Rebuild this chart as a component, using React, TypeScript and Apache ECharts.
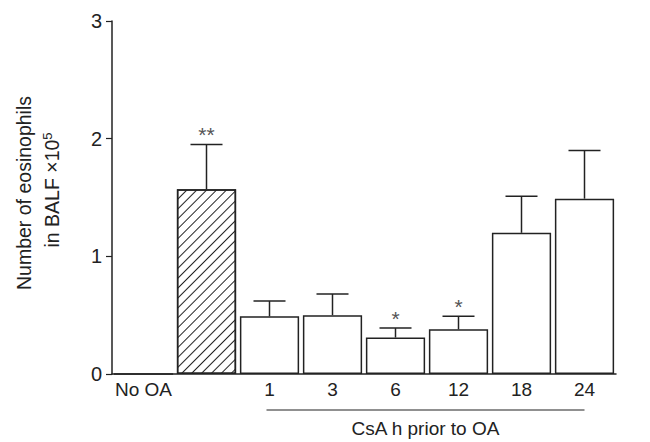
import React, { useEffect, useRef } from "react";
import * as echarts from "echarts";

const categories = ["No OA", "", "1", "3", "6", "12", "18", "24"];
const means = [0, 1.57, 0.49, 0.5, 0.31, 0.38, 1.2, 1.49];
const errorTops = [null, 1.95, 0.62, 0.68, 0.39, 0.49, 1.51, 1.9];
const marks = ["", "**", "", "", "*", "*", "", ""];
const hatchedIndex = [1];
const yTicks = [0, 1, 2, 3];
const groupLabel = "CsA h prior to OA";

const FONT = "'Liberation Sans', Arial, sans-serif";
const INK = "#222";

export default function App() {
  const ref = useRef<HTMLDivElement>(null);
  useEffect(() => {
    document.body.style.margin = "0";
    if (!ref.current) return;
    const chart = echarts.init(ref.current, null, { renderer: "svg" });
    const barData = means.map((v, i) =>
      hatchedIndex.includes(i)
        ? {
            value: v,
            itemStyle: {
              color: "#fff",
              decal: {
                symbol: "rect",
                symbolSize: 1,
                color: INK,
                backgroundColor: "#fff",
                dashArrayX: [1, 0],
                dashArrayY: [1, 6],
                rotation: -Math.PI / 4,
              },
            },
          }
        : { value: v }
    );
    const errData = categories.map((c, i) => [i, means[i], errorTops[i], marks[i]]);
    chart.setOption({
      animation: false,
      grid: { left: 112, right: 34, top: 21, bottom: 68 },
      xAxis: {
        type: "category",
        data: categories,
        axisLine: { lineStyle: { color: INK, width: 1.5 } },
        axisTick: { alignWithLabel: true, length: 5, lineStyle: { color: INK, width: 1.2 } },
        axisLabel: { color: INK, fontSize: 19, fontFamily: FONT, margin: 6, interval: 0 },
      },
      yAxis: {
        type: "value",
        min: yTicks[0],
        max: yTicks[yTicks.length - 1],
        interval: 1,
        axisLine: { show: true, lineStyle: { color: INK, width: 1.5 } },
        axisTick: { show: true, length: 6, lineStyle: { color: INK, width: 1.2 } },
        splitLine: { show: false },
        axisLabel: { color: INK, fontSize: 20, fontFamily: FONT, margin: 10 },
      },
      series: [
        {
          type: "bar",
          data: barData,
          barWidth: "94%",
          itemStyle: { color: "#fff", borderColor: INK, borderWidth: 1.5 },
        },
        {
          type: "custom",
          data: errData,
          z: 5,
          renderItem: (params: any, api: any) => {
            const top = api.value(2);
            if (top === null || top === undefined || isNaN(top)) return null;
            const base = api.coord([api.value(0), api.value(1)]);
            const tip = api.coord([api.value(0), top]);
            const half = 16;
            const children: any[] = [
              {
                type: "line",
                shape: { x1: base[0], y1: base[1], x2: tip[0], y2: tip[1] },
                style: { stroke: INK, lineWidth: 1.5 },
              },
              {
                type: "line",
                shape: { x1: tip[0] - half, y1: tip[1], x2: tip[0] + half, y2: tip[1] },
                style: { stroke: INK, lineWidth: 1.5 },
              },
            ];
            const m = marks[params.dataIndex];
            if (m) {
              children.push({
                type: "text",
                x: tip[0],
                y: tip[1] - 10,
                style: {
                  text: m,
                  fill: "#555",
                  fontSize: 21,
                  fontFamily: FONT,
                  align: "center",
                  verticalAlign: "middle",
                },
              });
            }
            return { type: "group", children };
          },
        },
      ],
    });
    const first = chart.convertToPixel({ xAxisIndex: 0 }, "1") as number;
    const last = chart.convertToPixel({ xAxisIndex: 0 }, "24") as number;
    const lineY = 410;
    chart.setOption({
      graphic: [
        {
          type: "line",
          shape: { x1: first - 3, y1: lineY, x2: last, y2: lineY },
          style: { stroke: INK, lineWidth: 1.2 },
        },
        {
          type: "text",
          x: (first - 3 + last) / 2,
          y: 428,
          style: {
            text: groupLabel,
            fill: INK,
            fontSize: 19,
            fontFamily: FONT,
            align: "center",
            verticalAlign: "middle",
          },
        },
        {
          type: "text",
          x: 24,
          y: 193,
          rotation: Math.PI / 2,
          style: {
            text: "Number of eosinophils",
            fill: INK,
            fontSize: 19.5,
            fontFamily: FONT,
            align: "center",
            verticalAlign: "middle",
          },
        },
        {
          type: "text",
          x: 51,
          y: 190,
          rotation: Math.PI / 2,
          style: {
            text: "{n|in BALF \u00d710}{s|5}",
            fill: INK,
            fontSize: 19.5,
            fontFamily: FONT,
            align: "center",
            verticalAlign: "middle",
            rich: {
              n: { fontSize: 19.5, fontFamily: FONT, fill: INK, verticalAlign: "bottom" },
              s: { fontSize: 13, fontFamily: FONT, fill: INK, verticalAlign: "top", padding: [0, 0, 8, 0] },
            },
          },
        },
      ],
    });
    return () => chart.dispose();
  }, []);
  return <div ref={ref} style={{ width: 650, height: 442 }} />;
}
